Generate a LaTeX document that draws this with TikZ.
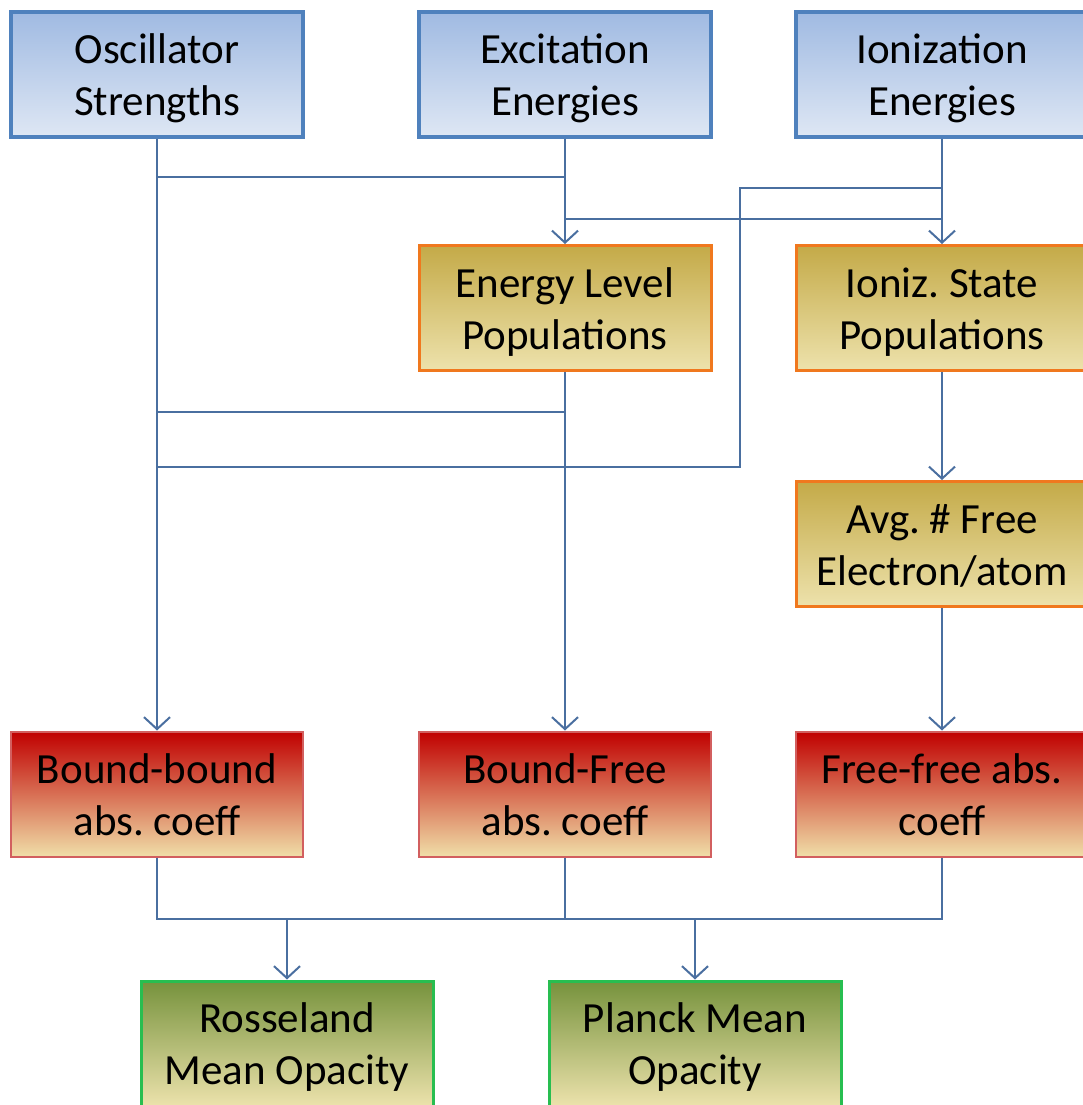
\documentclass[tikz,border=0pt]{standalone}
\usepackage{fontspec}
\setmainfont{Carlito}
\frenchspacing
\usetikzlibrary{arrows.meta}
\definecolor{lnc}{RGB}{74,111,160}
\definecolor{bltop}{RGB}{160,186,226}
\definecolor{blbot}{RGB}{222,231,244}
\definecolor{blbd}{RGB}{79,129,189}
\definecolor{ortop}{RGB}{196,170,72}
\definecolor{orbot}{RGB}{237,226,172}
\definecolor{orbd}{RGB}{240,120,30}
\definecolor{rdtop}{RGB}{192,0,0}
\definecolor{rdmid}{RGB}{204,72,56}
\definecolor{rdbot}{RGB}{240,222,168}
\definecolor{rdbd}{RGB}{210,95,95}
\definecolor{grtop}{RGB}{118,146,60}
\definecolor{grbot}{RGB}{236,226,172}
\definecolor{grbd}{RGB}{40,190,80}
\begin{document}
\begin{tikzpicture}[x=1pt,y=-1pt,
  box/.style={minimum width=292pt, minimum height=125pt, inner sep=0pt, align=center,
    text height=82pt, text depth=0pt,
    font=\fontsize{43}{52}\selectfont, line width=3pt},
  bluebox/.style={box, draw=blbd, line width=3.5pt, top color=bltop, bottom color=blbot},
  orbox/.style={box, draw=orbd, top color=ortop, bottom color=orbot},
  rdbox/.style={box, draw=rdbd, line width=2pt, top color=rdtop, middle color=rdmid, bottom color=rdbot},
  grbox/.style={box, draw=grbd, top color=grtop, bottom color=grbot},
  conn/.style={draw=lnc, line width=2pt},
  arr/.style={conn, -{Straight Barb[length=12pt,width=26pt,line width=2pt]}}]
\useasboundingbox[fill=white] (0,0) rectangle (1083,1105);
% row 1
\node[bluebox] (osc) at (157,74.5) {Oscillator\\Strengths};
\node[bluebox] (exc) at (565,74.5) {Excitation\\Energies};
\node[bluebox] (ion) at (942,74.5) {Ionization\\Energies};
% row 2
\node[orbox] (elp) at (565,308) {Energy Level\\Populations};
\node[orbox] (isp) at (942,308) {Ioniz. State\\Populations};
% row 3
\node[orbox] (avg) at (942,544) {Avg. \# Free\\Electron/atom};
% row 4
\node[rdbox] (bb) at (157,794) {Bound-bound\\abs. coeff};
\node[rdbox] (bf) at (565,794) {Bound-Free\\abs. coeff};
\node[rdbox] (ff) at (942,794) {Free-free abs.\\coeff};
% row 5
\node[grbox] (ros) at (287,1043.5) {Rosseland\\Mean Opacity};
\node[grbox] (pla) at (695,1043.5) {Planck Mean\\Opacity};
% junction coordinates
\coordinate (h1) at (0,177);
\coordinate (h2) at (0,188);
\coordinate (h3) at (0,219);
\coordinate (h4) at (0,412);
\coordinate (h5) at (0,467);
\coordinate (h6) at (0,919);
\coordinate (vx) at (740,0);
% connectors
\draw[arr] (osc.south) -- (bb.north);
\draw[arr] (exc.south) -- (elp.north);
\draw[arr] (ion.south) -- (isp.north);
\draw[conn] (osc.south |- h1) -- (exc.south |- h1);
\draw[conn] (exc.south |- h3) -- (ion.south |- h3);
\draw[conn] (ion.south |- h2) -- (vx |- h2) -- (vx |- h5) -- (osc.south |- h5);
\draw[arr] (elp.south) -- (bf.north);
\draw[conn] (elp.south |- h4) -- (osc.south |- h4);
\draw[arr] (isp.south) -- (avg.north);
\draw[arr] (avg.south) -- (ff.north);
\draw[conn] (bb.south) -- (bb.south |- h6) -- (ff.south |- h6) -- (ff.south);
\draw[conn] (bf.south) -- (bf.south |- h6);
\draw[arr] (ros.north |- h6) -- (ros.north);
\draw[arr] (pla.north |- h6) -- (pla.north);
\end{tikzpicture}
\end{document}
